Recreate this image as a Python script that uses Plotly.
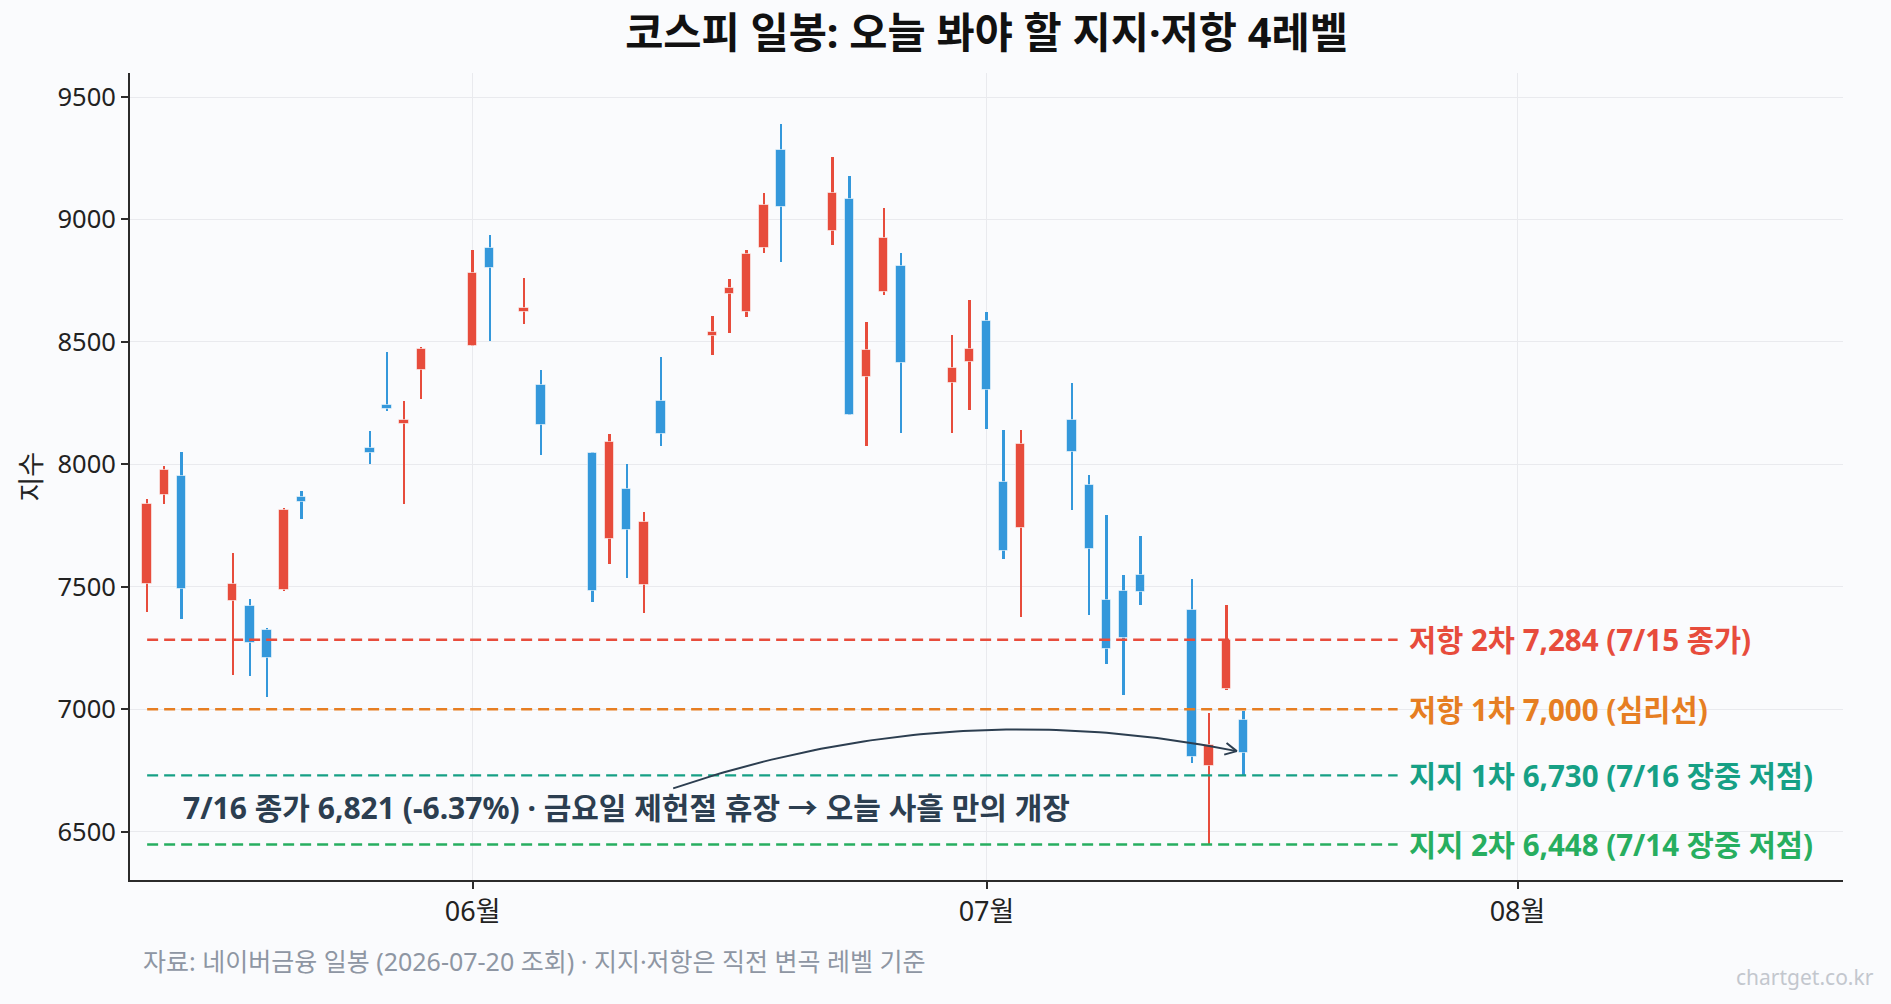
import plotly.graph_objects as go
import pandas as pd
import numpy as np

# ---------------- data ----------------
dates = ["2026-05-13", "2026-05-14", "2026-05-15", "2026-05-18", "2026-05-19", "2026-05-20",
         "2026-05-21", "2026-05-22", "2026-05-26", "2026-05-27", "2026-05-28", "2026-05-29",
         "2026-06-01", "2026-06-02", "2026-06-04", "2026-06-05", "2026-06-08", "2026-06-09",
         "2026-06-10", "2026-06-11", "2026-06-12", "2026-06-15", "2026-06-16", "2026-06-17",
         "2026-06-18", "2026-06-19", "2026-06-22", "2026-06-23", "2026-06-24", "2026-06-25",
         "2026-06-26", "2026-06-29", "2026-06-30", "2026-07-01", "2026-07-02", "2026-07-03",
         "2026-07-06", "2026-07-07", "2026-07-08", "2026-07-09", "2026-07-10", "2026-07-13",
         "2026-07-14", "2026-07-15", "2026-07-16"]
opens = [7510, 7875, 7952, 7442, 7423, 7322, 7487, 7868, 8068, 8242, 8165, 8385,
         8483, 8882, 8623, 8323, 8045, 7695, 7898, 7508, 8260, 8525, 8697, 8623,
         8885, 9285, 8953, 9082, 8357, 8703, 8812, 8333, 8417, 8587, 7930, 7740,
         8183, 7917, 7447, 7485, 7550, 7407, 6768, 7081, 6958]
highs = [7858, 7993, 8052, 7638, 7450, 7330, 7822, 7892, 8137, 8460, 8258, 8478,
         8877, 8937, 8762, 8387, 8050, 8125, 8002, 7807, 8437, 8607, 8757, 8877,
         9107, 9390, 9255, 9178, 8582, 9047, 8863, 8528, 8672, 8623, 8142, 8142,
         8333, 7957, 7792, 7548, 7708, 7531, 6983, 7425, 6994]
lows = [7398, 7840, 7370, 7142, 7137, 7052, 7485, 7777, 8002, 8217, 7840, 8268,
        8483, 8502, 8575, 8037, 7440, 7595, 7537, 7392, 8077, 8448, 8537, 8603,
        8865, 8828, 8897, 8202, 8077, 8690, 8127, 8127, 8220, 8143, 7615, 7375,
        7812, 7387, 7183, 7060, 7427, 6782, 6448, 7078, 6730]
closes = [7840, 7978, 7492, 7513, 7270, 7208, 7813, 7848, 8047, 8227, 8183, 8473,
          8783, 8802, 8637, 8160, 7483, 8093, 7732, 7763, 8123, 8542, 8720, 8860,
          9060, 9050, 9110, 8202, 8468, 8925, 8412, 8392, 8473, 8303, 7648, 8085,
          8052, 7655, 7248, 7293, 7477, 6805, 6856, 7284, 6821]

level_values = [7284, 7000, 6730, 6448]
level_labels = ["저항 2차 7,284 (7/15 종가)", "저항 1차 7,000 (심리선)",
                "지지 1차 6,730 (7/16 장중 저점)", "지지 2차 6,448 (7/14 장중 저점)"]
level_colors = ["#e74c3c", "#e67e22", "#16a085", "#27ae60"]

month_ticks = ["2026-06-01", "2026-07-01", "2026-08-01"]
month_labels = ["06월", "07월", "08월"]
y_ticks = [6500, 7000, 7500, 8000, 8500, 9000, 9500]

title_text = "코스피 일봉: 오늘 봐야 할 지지·저항 4레벨"
note_text = "7/16 종가 6,821 (-6.37%) · 금요일 제헌절 휴장 → 오늘 사흘 만의 개장"
source_text = "자료: 네이버금융 일봉 (2026-07-20 조회) · 지지·저항은 직전 변곡 레벨 기준"
watermark_text = "chartget.co.kr"

# ---------------- layout constants ----------------
W, H = 1891, 1004
ML, MR, MT, MB = 130, 48, 73, 124
PW, PH = W - ML - MR, H - MT - MB
X0, X1 = pd.Timestamp("2026-05-12"), pd.Timestamp("2026-08-20")
Y0, Y1 = 6303, 9598

UP, DOWN = "#e74c3c", "#3498db"
BG = "#fafbfd"
FONT = "Noto Sans, Noto Sans CJK KR, sans-serif"
DAY_MS = 86400000

d = pd.to_datetime(dates)
o = np.array(opens, float); h = np.array(highs, float)
l = np.array(lows, float); c = np.array(closes, float)
up = c >= o
cols = [UP if u else DOWN for u in up]

fig = go.Figure()

# wicks
fig.add_trace(go.Bar(x=d, y=h - l, base=l, width=DAY_MS * 0.14,
                     marker=dict(color=cols, line=dict(width=0)),
                     hoverinfo="skip", showlegend=False))
# bodies
body_lo = np.minimum(o, c)
body_h = np.maximum(np.abs(c - o), 6)
fig.add_trace(go.Bar(x=d, y=body_h, base=body_lo, width=DAY_MS * 0.55,
                     marker=dict(color=cols, line=dict(width=1, color="rgba(255,255,255,0.55)")),
                     hoverinfo="skip", showlegend=False))

# level lines + labels
line_end = d[-1] + pd.Timedelta(days=9)
for val, lab, colr in zip(level_values, level_labels, level_colors):
    fig.add_trace(go.Scatter(x=[d[0], line_end], y=[val, val], mode="lines",
                             line=dict(color=colr, width=2.4, dash="11px,6px"),
                             hoverinfo="skip", showlegend=False))
    fig.add_annotation(x=line_end, y=val, xref="x", yref="y", text=lab, showarrow=False,
                       xanchor="left", yanchor="middle", xshift=9,
                       font=dict(family=FONT, size=29.5, color=colr, weight="bold"))

# curved arrow (computed in pixel space, mapped back to data)
def to_px(ts, v):
    return ((ts - X0) / (X1 - X0)) * PW, (v - Y0) / (Y1 - Y0) * PH

def from_px(x, y):
    return X0 + (X1 - X0) * (x / PW), Y0 + y / PH * (Y1 - Y0)

sx, sy = to_px(pd.Timestamp("2026-06-12 17:00"), 6677)
tx, ty = to_px(d[-1], c[-1])
ex, ey = tx - 6.7, ty + 2
mx, my = (sx + ex) / 2, (sy + ey) / 2
dx, dy = ex - sx, ey - sy
L = np.hypot(dx, dy)
nx, ny = -dy / L, dx / L
rad = 0.135
cx, cy = mx + rad * L * nx, my + rad * L * ny
t = np.linspace(0, 1, 80)
bx = (1 - t) ** 2 * sx + 2 * t * (1 - t) * cx + t ** 2 * ex
by = (1 - t) ** 2 * sy + 2 * t * (1 - t) * cy + t ** 2 * ey
pts = [from_px(a, b) for a, b in zip(bx, by)]
fig.add_trace(go.Scatter(x=[p[0] for p in pts], y=[p[1] for p in pts], mode="lines",
                         line=dict(color="#2c3e50", width=2), hoverinfo="skip", showlegend=False))
# chevron head
tgx, tgy = ex - cx, ey - cy
tl = np.hypot(tgx, tgy)
rx, ry = -tgx / tl, -tgy / tl
head = []
for ang in (np.deg2rad(27), np.deg2rad(-27)):
    wx = rx * np.cos(ang) - ry * np.sin(ang)
    wy = rx * np.sin(ang) + ry * np.cos(ang)
    head.append(from_px(ex + 13 * wx, ey + 13 * wy))
tip = from_px(ex, ey)
fig.add_trace(go.Scatter(x=[head[0][0], tip[0], head[1][0]], y=[head[0][1], tip[1], head[1][1]],
                         mode="lines", line=dict(color="#2c3e50", width=2),
                         hoverinfo="skip", showlegend=False))

# note text
fig.add_annotation(x=pd.Timestamp("2026-05-15"), y=6600, xref="x", yref="y", text=note_text,
                   showarrow=False, xanchor="left", yanchor="middle",
                   font=dict(family=FONT, size=30, color="#2c3e50", weight="bold"))

# y axis title
fig.add_annotation(x=(30 - ML) / PW, y=0.5, xref="paper", yref="paper", text="지수",
                   showarrow=False, textangle=-90, xanchor="center", yanchor="middle",
                   font=dict(family=FONT, size=27, color="#222"))
# footer
fig.add_annotation(x=(141 - ML) / PW, y=-(961 - (H - MB)) / PH, xref="paper", yref="paper",
                   text=source_text, showarrow=False, xanchor="left", yanchor="middle",
                   font=dict(family=FONT, size=25, color="#8e96a3"))
fig.add_annotation(x=(1876 - ML) / PW, y=-(977 - (H - MB)) / PH, xref="paper", yref="paper",
                   text=watermark_text, showarrow=False, xanchor="right", yanchor="middle",
                   font=dict(family=FONT, size=21, color="#c3c7ce"))

fig.update_layout(
    width=W, height=H,
    margin=dict(l=ML, r=MR, t=MT, b=MB),
    paper_bgcolor=BG, plot_bgcolor=BG,
    barmode="overlay", bargap=0,
    showlegend=False,
    title=dict(text=title_text, x=(ML + PW / 2) / W, xanchor="center",
               y=1 - 33 / H, yanchor="middle", yref="container", xref="container",
               font=dict(family=FONT, size=41.5, color="#111", weight="bold")),
    xaxis=dict(type="date", range=[X0, X1], tickvals=pd.to_datetime(month_ticks),
               ticktext=month_labels, showgrid=True, gridcolor="#e9eaee", gridwidth=1.2,
               showline=True, linecolor="#2b2b2b", linewidth=2, ticks="outside",
               ticklen=7, tickwidth=1.5, tickcolor="#2b2b2b", zeroline=False,
               tickfont=dict(family=FONT, size=27, color="#222")),
    yaxis=dict(range=[Y0, Y1], tickvals=y_ticks, showgrid=True, gridcolor="#e9eaee",
               gridwidth=1.2, showline=True, linecolor="#2b2b2b", linewidth=2,
               ticks="outside", ticklen=7, tickwidth=1.5, tickcolor="#2b2b2b",
               zeroline=False, tickfont=dict(family=FONT, size=25.5, color="#222")),
)

fig.write_html("out.html")
